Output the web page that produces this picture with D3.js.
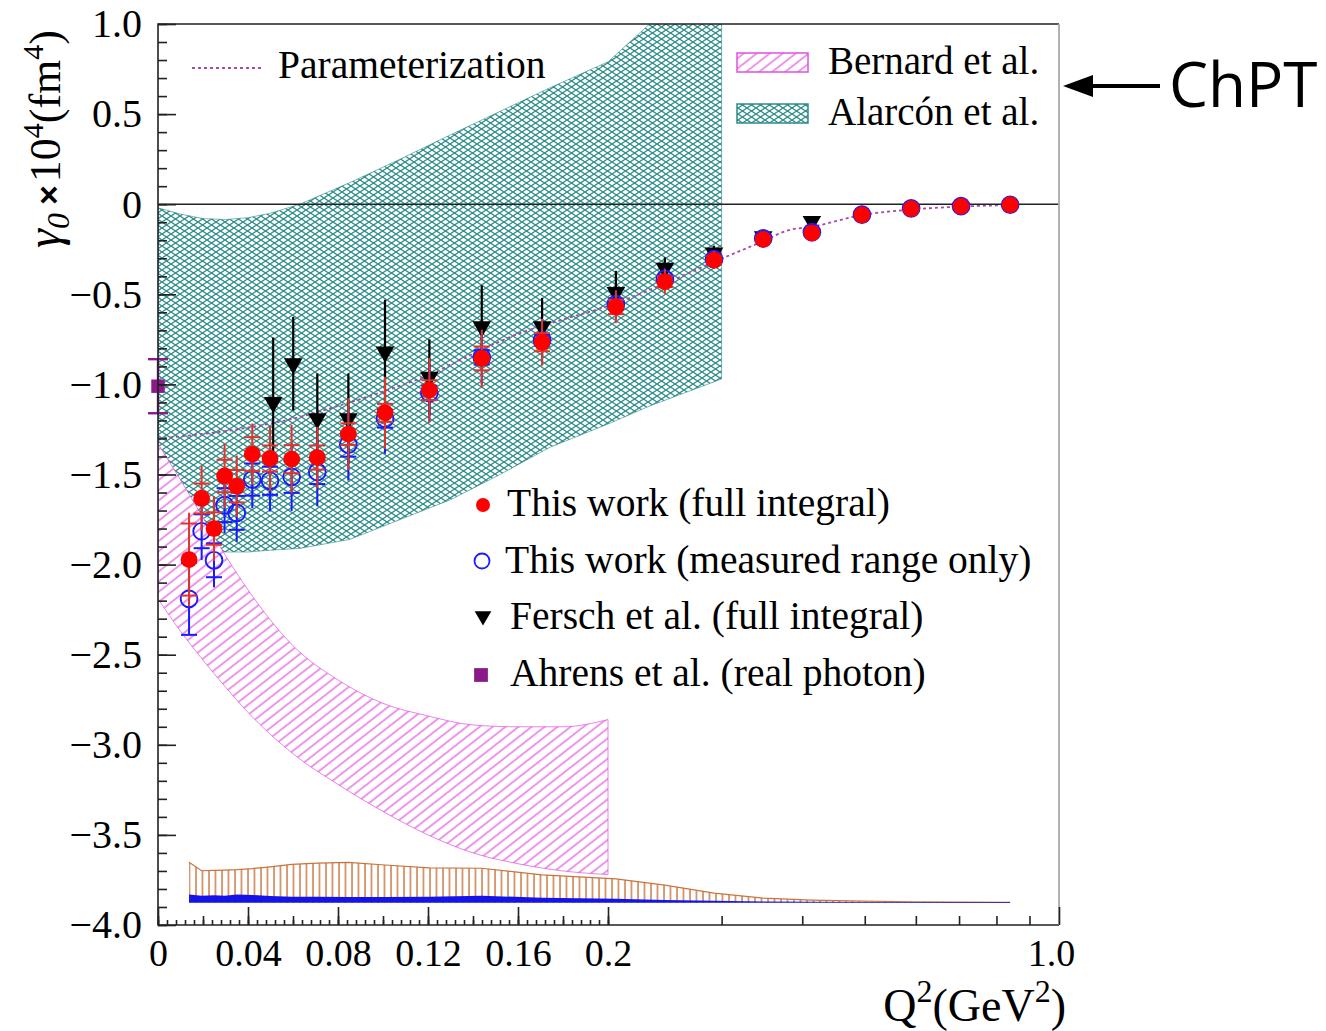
<!DOCTYPE html>
<html><head><meta charset="utf-8">
<script src="https://cdn.jsdelivr.net/npm/d3@7"></script>
<style>
body{margin:0;background:#fff;}
svg{display:block;}
</style></head><body>
<svg id="chart" width="1326" height="1031" font-family="Liberation Serif, Times New Roman, serif"></svg>
<script>
// ---- data -------------------------------------------------------------
// Q² bins of this work (GeV²)
const q2Bins = [0.0138,0.0194,0.0249,0.0296,0.0350,0.0419,0.0498,0.0594,0.0708,0.0846,0.1009,0.1206,0.1439,0.1707,0.2057,0.245,0.292,0.348,0.414,0.495,0.590,0.705,0.840];
// gamma_0 from the full integral
const gammaFull = [-1.972,-1.633,-1.80,-1.508,-1.565,-1.387,-1.411,-1.415,-1.406,-1.276,-1.158,-1.032,-0.856,-0.766,-0.57,-0.43,-0.31,-0.195,-0.16,-0.06,-0.025,-0.012,-0.004];
const statFull  = [0.20,0.083,0.09,0.09,0.09,0.094,0.072,0.078,0.067,0.06,0.05,0.055,0.066,0.05,0.04,0.03,0.02,0.015,0.01,0.008,0.006,0.005,0.004];
const totFull   = [0.26,0.18,0.18,0.18,0.17,0.17,0.18,0.19,0.17,0.20,0.20,0.18,0.16,0.13,0.09,0.07,0.05,0.04,0.03,0.02,0.015,0.01,0.01];
// gamma_0 from the measured range only
const gammaMeas = [-2.19,-1.815,-1.976,-1.67,-1.713,-1.528,-1.535,-1.513,-1.486,-1.334,-1.19,-1.047,-0.85,-0.755,-0.555,-0.415,-0.305,-0.19,-0.155,-0.058,-0.023,-0.011,-0.003];
const statMeas  = [0.20,0.094,0.094,0.094,0.094,0.089,0.078,0.089,0.067,0.067,0.05,0.04,0.04,0.03,0.03,0.02,0.015,0.01,0.008,0.006,0.005,0.004,0.003];
const totMeas   = [0.20,0.16,0.15,0.155,0.16,0.16,0.17,0.19,0.19,0.20,0.195,0.16,0.15,0.12,0.08,0.06,0.05,0.04,0.03,0.02,0.015,0.01,0.01];
// systematic uncertainties (drawn as bands above the baseline)
const sysBase = -3.877;
const sysFull = [0.225,0.178,0.18,0.182,0.184,0.19,0.20,0.213,0.22,0.225,0.21,0.194,0.192,0.155,0.133,0.098,0.054,0.026,0.015,0.009,0.006,0.004,0.003];
const sysMeas = [0.046,0.04,0.042,0.04,0.046,0.044,0.038,0.034,0.034,0.032,0.032,0.034,0.04,0.028,0.022,0.016,0.011,0.008,0.006,0.005,0.004,0.004,0.004];

// Fersch et al. (full integral)
const q2Fersch = [0.0512,0.0601,0.0708,0.0846,0.1009,0.1206,0.1439,0.1707,0.2057,0.245,0.292,0.348,0.414];
const gFersch  = [-1.10,-0.885,-1.19,-1.19,-0.82,-0.96,-0.68,-0.68,-0.49,-0.355,-0.27,-0.18,-0.095];
const eFersch  = [0.36,0.26,0.25,0.25,0.29,0.21,0.23,0.16,0.12,0.06,0.04,0.03,0.02];

// Ahrens et al. (real photon)
const q2Ahrens = [0];
const gAhrens  = [-1.01];
const eAhrens  = [0.15];

// Parameterization curve
const q2Param = [0,0.02,0.04,0.06,0.08,0.10,0.12,0.14,0.16,0.18,0.20,0.245,0.292,0.348,0.38,0.414,0.495,0.59,0.705,0.84];
const gParam  = [-1.30,-1.275,-1.24,-1.19,-1.12,-1.04,-0.95,-0.83,-0.72,-0.64,-0.565,-0.44,-0.32,-0.205,-0.145,-0.125,-0.06,-0.03,-0.013,-0.005];

// ChPT: Alarcón et al. band
const q2Alarcon = [0,0.01,0.02,0.03,0.04,0.05,0.063,0.0853,0.1076,0.13,0.152,0.174,0.2,0.232,0.3];
const upAlarcon = [-0.02,-0.055,-0.08,-0.085,-0.075,-0.05,0.0,0.12,0.25,0.385,0.515,0.645,0.79,1.0,1.55];
const loAlarcon = [-1.92,-1.93,-1.93,-1.93,-1.93,-1.92,-1.91,-1.86,-1.75,-1.64,-1.50,-1.35,-1.22,-1.12,-0.97];

// ChPT: Bernard et al. band
const q2Bernard = [0,0.01,0.02,0.03,0.04,0.06,0.08,0.10,0.12,0.14,0.16,0.18,0.20];
const upBernard = [-1.33,-1.53,-1.74,-1.95,-2.14,-2.45,-2.64,-2.77,-2.84,-2.89,-2.90,-2.90,-2.86];
const loBernard = [-2.19,-2.37,-2.53,-2.68,-2.82,-3.05,-3.22,-3.37,-3.50,-3.60,-3.66,-3.70,-3.72];

const xMajorTicks = [0,0.04,0.08,0.12,0.16,0.2];
const xLogTicks = [0.3,0.4,0.5,0.6,0.7,0.8,0.9];
const xLabelsHigh = [1.0];
const yMajorTicks = d3.range(-4,1.001,0.5);

// ---- layout -----------------------------------------------------------
const L = 158, R = 1059, T = 24, B = 925, XB = 608;
const svg = d3.select('#chart');
const xLin = d3.scaleLinear().domain([0,0.2]).range([L,XB]);
const xLog = d3.scaleLog().domain([0.2,1.0]).range([XB,R]);
const x = v => v <= 0.2 ? xLin(v) : xLog(v);
const y = d3.scaleLinear().domain([-4,1]).range([B,T]);

const teal = '#2e8c88', pink = '#e24fe0', brown = '#c8743c', bandBlue = '#1414e8';
const red = '#ff0000', blue = '#1a1aff', purple = '#8a1a8a', paramCol = '#a44aa8';
const serif = 'Liberation Serif, Times New Roman, serif';

// ---- fill patterns ----
const defs = svg.append('defs');
const cross = defs.append('pattern').attr('id','cross').attr('patternUnits','userSpaceOnUse')
  .attr('width',9).attr('height',6);
cross.append('rect').attr('width',9).attr('height',6).attr('fill','#fff');
cross.append('path').attr('d','M0,0L9,6M0,6L9,0').attr('stroke',teal).attr('stroke-width',1.3).attr('fill','none');

const diag = defs.append('pattern').attr('id','diag').attr('patternUnits','userSpaceOnUse')
  .attr('width',8).attr('height',8).attr('patternTransform','rotate(-38)');
diag.append('rect').attr('width',8).attr('height',8).attr('fill','#fff');
diag.append('line').attr('x1',0).attr('x2',8).attr('y1',4).attr('y2',4).attr('stroke',pink).attr('stroke-width',1.2);

const vert = defs.append('pattern').attr('id','vert').attr('patternUnits','userSpaceOnUse')
  .attr('width',6.5).attr('height',10);
vert.append('rect').attr('width',6.5).attr('height',10).attr('fill','#fff');
vert.append('line').attr('x1',1).attr('x2',1).attr('y1',0).attr('y2',10).attr('stroke',brown).attr('stroke-width',1.4);

defs.append('clipPath').attr('id','frame').append('rect')
  .attr('x',L).attr('y',T).attr('width',R-L).attr('height',B-T);

const plot = svg.append('g').attr('clip-path','url(#frame)');

// ---- theory bands ----
const bandArea = (q, lo, up, curve) => d3.area().x((d,i)=>x(q[i])).y0((d,i)=>y(lo[i])).y1((d,i)=>y(up[i])).curve(curve)(q);

plot.append('path').attr('d', bandArea(q2Alarcon, loAlarcon, upAlarcon, d3.curveLinear))
  .attr('fill','url(#cross)').attr('stroke',teal).attr('stroke-width',1).attr('stroke-opacity',0.6);
plot.append('path').attr('d', bandArea(q2Bernard, loBernard, upBernard, d3.curveMonotoneX))
  .attr('fill','url(#diag)').attr('stroke',pink).attr('stroke-width',1).attr('stroke-opacity',0.7);

// ---- systematic bands ----
const sysArea = s => d3.area().x((d,i)=>x(q2Bins[i])).y0(y(sysBase)).y1((d,i)=>y(sysBase + s[i])).curve(d3.curveLinear)(q2Bins);
plot.append('path').attr('d', sysArea(sysFull)).attr('fill','url(#vert)');
plot.append('path').attr('d', d3.line().x((d,i)=>x(q2Bins[i])).y((d,i)=>y(sysBase+sysFull[i]))(q2Bins))
  .attr('fill','none').attr('stroke',brown).attr('stroke-width',1.2);
plot.append('path').attr('d', sysArea(sysMeas)).attr('fill',bandBlue);

// ---- zero line ----
svg.append('line').attr('x1',L).attr('x2',R).attr('y1',y(0)).attr('y2',y(0))
  .attr('stroke','#222').attr('stroke-width',1.6);

// ---- parameterization ----
plot.append('path')
  .attr('d', d3.line().x((d,i)=>x(q2Param[i])).y((d,i)=>y(gParam[i])).curve(d3.curveMonotoneX)(q2Param))
  .attr('fill','none').attr('stroke',paramCol).attr('stroke-width',1.8).attr('stroke-dasharray','3,3');

// ---- data points ----
function errorBars(g, q, v, tot, stat, color, w, cap) {
  const grp = g.append('g').attr('stroke',color).attr('stroke-width',w);
  q.forEach((qq,i)=>{
    const cx = x(qq);
    grp.append('line').attr('x1',cx).attr('x2',cx).attr('y1',y(v[i]-tot[i])).attr('y2',y(v[i]+tot[i]));
    if (stat) {
      [v[i]-stat[i], v[i]+stat[i]].forEach(e=>{
        grp.append('line').attr('x1',cx-cap).attr('x2',cx+cap).attr('y1',y(e)).attr('y2',y(e));
      });
    }
  });
}

const pts = svg.append('g');
// Fersch et al.
errorBars(pts, q2Fersch, gFersch, eFersch, null, '#000', 2.2, 0);
pts.selectAll('.fer').data(q2Fersch).join('path')
  .attr('transform',(d,i)=>`translate(${x(d)},${y(gFersch[i])}) rotate(180)`)
  .attr('d', d3.symbol(d3.symbolTriangle, 150)()).attr('fill','#000');

// This work, measured range only
errorBars(pts, q2Bins, gammaMeas, totMeas, statMeas, blue, 2, 8);
pts.selectAll('.meas').data(q2Bins).join('circle')
  .attr('cx',d=>x(d)).attr('cy',(d,i)=>y(gammaMeas[i])).attr('r',8.4)
  .attr('fill','none').attr('stroke',blue).attr('stroke-width',1.9);

// This work, full integral
errorBars(pts, q2Bins, gammaFull, totFull, statFull, '#e0342a', 2, 8);
pts.selectAll('.full').data(q2Bins).join('circle')
  .attr('cx',d=>x(d)).attr('cy',(d,i)=>y(gammaFull[i])).attr('r',8.4).attr('fill',red);

// Ahrens et al.
errorBars(pts, q2Ahrens, gAhrens, eAhrens, eAhrens, purple, 2.4, 10);
pts.selectAll('.ahr').data(q2Ahrens).join('path')
  .attr('transform',(d,i)=>`translate(${x(d)},${y(gAhrens[i])})`)
  .attr('d', d3.symbol(d3.symbolSquare, 180)()).attr('fill',purple);

// ---- frame & axes ----
svg.append('path').attr('d',`M${R},${T}H${L}V${B}H${R}`).attr('fill','none').attr('stroke','#222').attr('stroke-width',1.6);
svg.append('line').attr('x1',R).attr('x2',R).attr('y1',T).attr('y2',B).attr('stroke','#aaa').attr('stroke-width',1.8);

function tickAxis(axis){
  const g = svg.append('g').call(axis);
  g.select('.domain').remove();
  g.selectAll('line').attr('stroke','#222').attr('stroke-width',1.6);
  return g;
}
// y ticks, pointing into the frame
tickAxis(d3.axisRight(y).tickValues(yMajorTicks).tickSize(18).tickFormat('')).attr('transform',`translate(${L},0)`);
tickAxis(d3.axisRight(y).tickValues(d3.range(-4,1.001,0.1)).tickSize(9).tickFormat('')).attr('transform',`translate(${L},0)`);
const yLab = svg.append('g').attr('transform',`translate(${L},0)`)
  .call(d3.axisLeft(y).tickValues(yMajorTicks).tickSize(0).tickPadding(16)
    .tickFormat(v => Math.abs(v)<1e-9 ? '0' : (v<0?'\u2212':'') + Math.abs(v).toFixed(1)));
yLab.select('.domain').remove();
yLab.selectAll('text').attr('font-size',40).attr('font-family',serif).attr('fill','#000');

// x ticks, linear part
tickAxis(d3.axisTop(xLin).tickValues(xMajorTicks).tickSize(18).tickFormat('')).attr('transform',`translate(0,${B})`);
tickAxis(d3.axisTop(xLin).tickValues(d3.range(0,0.2001,0.02)).tickSize(9).tickFormat('')).attr('transform',`translate(0,${B})`);
tickAxis(d3.axisTop(xLin).tickValues(d3.range(0,0.2001,0.004)).tickSize(5).tickFormat('')).attr('transform',`translate(0,${B})`);
// x ticks, logarithmic part
tickAxis(d3.axisTop(xLog).tickValues(xLogTicks).tickSize(9).tickFormat('')).attr('transform',`translate(0,${B})`);
tickAxis(d3.axisTop(xLog).tickValues(xLabelsHigh).tickSize(18).tickFormat('')).attr('transform',`translate(0,${B})`);

const fmtX = v => v===0 ? '0' : String(+v.toFixed(2));
const xl1 = svg.append('g').attr('transform',`translate(0,${B})`)
  .call(d3.axisBottom(xLin).tickValues(xMajorTicks).tickSize(0).tickPadding(14).tickFormat(fmtX));
const xl2 = svg.append('g').attr('transform',`translate(0,${B})`)
  .call(d3.axisBottom(xLog).tickValues(xLabelsHigh).tickSize(0).tickPadding(14).tickFormat(v=>v.toFixed(1)));
[xl1,xl2].forEach(g=>{g.select('.domain').remove();
  g.selectAll('text').attr('font-size',38).attr('font-family',serif).attr('fill','#000');});
xl2.selectAll('text').attr('dx',-8);

// axis titles
svg.append('text').attr('x',1066).attr('y',1021).attr('text-anchor','end').attr('font-size',46)
  .html('Q<tspan font-size="32" dy="-19">2</tspan><tspan dy="19">(GeV</tspan><tspan font-size="32" dy="-19">2</tspan><tspan dy="19">)</tspan>');
svg.append('text').attr('transform','translate(60,248) rotate(-90)').attr('font-size',44)
  .html('<tspan font-style="italic" font-size="48">γ</tspan><tspan font-style="italic" font-size="32" dy="9">0</tspan>'
      + '<tspan dy="-9" dx="8" font-family="Liberation Sans, Arial, sans-serif" font-weight="bold" font-size="34">×</tspan>'
      + '<tspan dx="3">10</tspan><tspan font-size="30" dy="-17">4</tspan><tspan dy="17">(fm</tspan><tspan font-size="30" dy="-17">4</tspan><tspan dy="17">)</tspan>');

// ---- legends ----
svg.append('line').attr('x1',192).attr('x2',262).attr('y1',68).attr('y2',68)
  .attr('stroke',paramCol).attr('stroke-width',1.8).attr('stroke-dasharray','3,3');
svg.append('text').attr('x',278).attr('y',78).attr('font-size',39.5).text('Parameterization');

svg.append('rect').attr('x',737).attr('y',53).attr('width',71).attr('height',19)
  .attr('fill','url(#diag)').attr('stroke',pink).attr('stroke-width',1.5);
svg.append('text').attr('x',828).attr('y',74).attr('font-size',39).text('Bernard et al.');
svg.append('rect').attr('x',737).attr('y',104).attr('width',71).attr('height',19)
  .attr('fill','url(#cross)').attr('stroke',teal).attr('stroke-width',1.5);
svg.append('text').attr('x',828).attr('y',125).attr('font-size',39).text('Alarcón et al.');

const leg = svg.append('g');
leg.append('circle').attr('cx',483).attr('cy',505).attr('r',7).attr('fill',red);
leg.append('text').attr('x',507).attr('y',516).attr('font-size',39.5).text('This work (full integral)');
leg.append('circle').attr('cx',482).attr('cy',561).attr('r',7.5).attr('fill','none').attr('stroke',blue).attr('stroke-width',1.8);
leg.append('text').attr('x',505).attr('y',573).attr('font-size',39.5).text('This work (measured range only)');
leg.append('path').attr('transform','translate(483,616) rotate(180)').attr('d',d3.symbol(d3.symbolTriangle,120)()).attr('fill','#000');
leg.append('text').attr('x',510).attr('y',629).attr('font-size',39.5).text('Fersch et al. (full integral)');
leg.append('path').attr('transform','translate(481,675)').attr('d',d3.symbol(d3.symbolSquare,190)()).attr('fill',purple);
leg.append('text').attr('x',510).attr('y',686).attr('font-size',39.5).text('Ahrens et al. (real photon)');

// ChPT annotation
svg.append('line').attr('x1',1160).attr('x2',1085).attr('y1',86).attr('y2',86).attr('stroke','#000').attr('stroke-width',4);
svg.append('path').attr('d','M1063,86L1093,75L1093,97Z').attr('fill','#000');
svg.append('text').attr('x',1169).attr('y',107).attr('font-size',62)
  .attr('font-family','Open Sans, Lato, sans-serif').attr('font-weight',400).text('ChPT');
</script>
</body></html>
